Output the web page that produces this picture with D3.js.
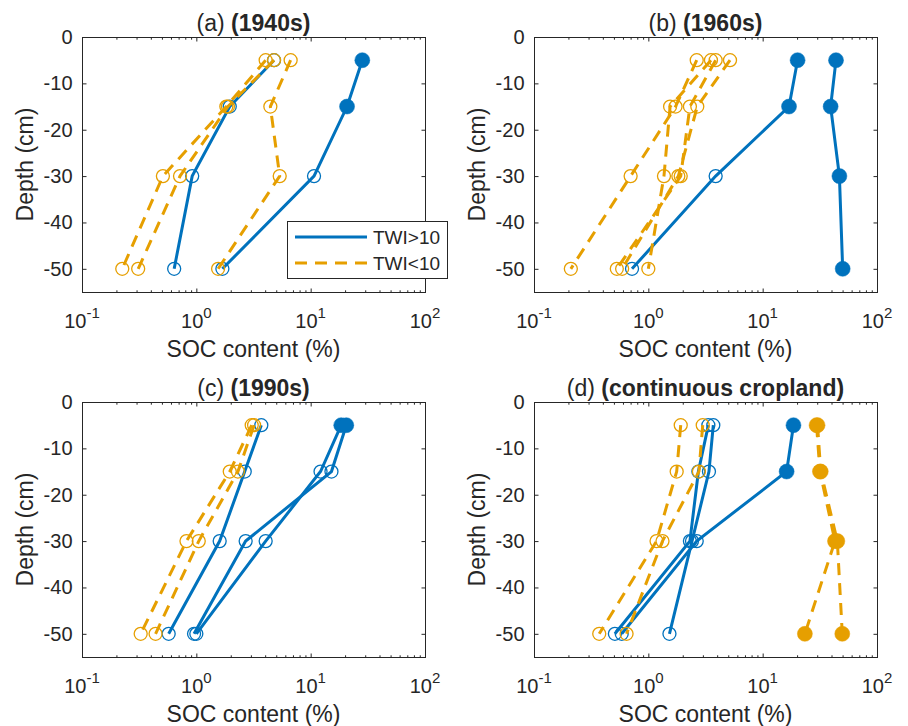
<!DOCTYPE html>
<html>
<head>
<meta charset="utf-8">
<script src="https://cdn.jsdelivr.net/npm/d3@7"></script>
<style>
  body { margin: 0; background: #fff; }
  svg { display: block; }
  text { font-family: "Liberation Sans", Arial, Helvetica, sans-serif; fill: #262626; }
</style>
</head>
<body>
<svg id="chart" width="908" height="726"></svg>
<script>
// ---- data -------------------------------------------------------------
const depths = [-5, -15, -30, -50];                 // sampling depth (cm)
const depthTicks = [0, -10, -20, -30, -40, -50];
const socDecades = [0.1, 1, 10, 100];
const decadeExponents = ["-1", "0", "1", "2"];
const panelLetters = ["(a)", "(b)", "(c)", "(d)"];
const panelPeriods = ["(1940s)", "(1960s)", "(1990s)", "(continuous cropland)"];
const legendLabels = ["TWI>10", "TWI<10"];

// SOC content (%) per profile, one value per depth; 1 = filled marker
const soc1940sHigh    = [[28.3, 20.8, 10.7, 1.69], [4.78, 1.96, 0.92, 0.64]];
const filled1940sHigh = [[1, 1, 0, 0], [0, 0, 0, 0]];
const soc1940sLow     = [[4.04, 1.83, 0.51, 0.225], [4.78, 1.89, 0.72, 0.31], [6.68, 4.44, 5.36, 1.55]];
const filled1940sLow  = [[0, 0, 0, 0], [0, 0, 0, 0], [0, 0, 0, 0]];

const soc1960sHigh    = [[20.2, 17.0, 3.88, 0.72], [43.8, 39.3, 46.9, 50.1]];
const filled1960sHigh = [[1, 1, 0, 0], [1, 1, 1, 1]];
const soc1960sLow     = [[2.65, 1.73, 0.70, 0.21], [3.53, 1.55, 1.37, 1.0], [3.88, 2.31, 1.92, 0.53], [5.18, 2.68, 1.83, 0.59]];
const filled1960sLow  = [[0, 0, 0, 0], [0, 0, 0, 0], [0, 0, 0, 0], [0, 0, 0, 0]];

const soc1990sHigh    = [[3.70, 2.65, 1.60, 0.573], [18.5, 12.2, 4.04, 1.0], [20.5, 15.2, 2.70, 0.955]];
const filled1990sHigh = [[0, 0, 0, 0], [1, 0, 0, 0], [1, 0, 0, 0]];
const soc1990sLow     = [[3.05, 1.96, 0.82, 0.326], [3.2, 2.31, 1.05, 0.44]];
const filled1990sLow  = [[0, 0, 0, 0], [0, 0, 0, 0]];

const socCropHigh     = [[18.6, 16.2, 2.65, 0.585], [3.35, 2.74, 2.31, 0.51], [3.70, 3.39, 2.41, 1.53]];
const filledCropHigh  = [[1, 1, 0, 0], [0, 0, 0, 0], [0, 0, 0, 0]];
const socCropLow      = [[1.92, 1.77, 1.18, 0.372], [2.99, 2.77, 1.33, 0.645], [29.6, 31.7, 42.9, 23.4], [30.2, 32.2, 45.0, 49.7]];
const filledCropLow   = [[0, 0, 0, 0], [0, 0, 0, 0], [1, 1, 1, 1], [1, 1, 1, 1]];

const panels = [
  { high: soc1940sHigh, highFilled: filled1940sHigh, low: soc1940sLow, lowFilled: filled1940sLow },
  { high: soc1960sHigh, highFilled: filled1960sHigh, low: soc1960sLow, lowFilled: filled1960sLow },
  { high: soc1990sHigh, highFilled: filled1990sHigh, low: soc1990sLow, lowFilled: filled1990sLow },
  { high: socCropHigh,  highFilled: filledCropHigh,  low: socCropLow,  lowFilled: filledCropLow }
];

// ---- styling & layout ------------------------------------------------
const BLUE = "#0072BD";
const ORANGE = "#E69F00";
const AXIS = "#262626";
const DASH = "12,8";
const colLeft = [82, 534];
const rowTop = [37, 402];
const plotW = 343, plotH = 255;

const svg = d3.select("#chart");
svg.append("rect").attr("width", 908).attr("height", 726).attr("fill", "#fff");

const minorTicks = [];
for (let e = -1; e < 2; e++) for (let m = 2; m <= 9; m++) minorTicks.push(m * Math.pow(10, e));

panels.forEach((p, i) => {
  const left = colLeft[i % 2], top = rowTop[Math.floor(i / 2)];
  const x = d3.scaleLog().domain([0.1, 100]).range([left, left + plotW]);
  const y = d3.scaleLinear().domain([-55, 0]).range([top + plotH, top]);
  const g = svg.append("g");

  // frame
  g.append("rect")
    .attr("x", left + 0.5).attr("y", top + 0.5)
    .attr("width", plotW).attr("height", plotH)
    .attr("fill", "none").attr("stroke", AXIS).attr("stroke-width", 1);

  // inward ticks on all four sides
  const tickAxes = [
    [d3.axisBottom(x).tickValues(socDecades).tickSize(-4), top + plotH + 0.5],
    [d3.axisBottom(x).tickValues(minorTicks).tickSize(-2.2), top + plotH + 0.5],
    [d3.axisTop(x).tickValues(socDecades).tickSize(-4), top + 0.5],
    [d3.axisTop(x).tickValues(minorTicks).tickSize(-2.2), top + 0.5]
  ];
  tickAxes.forEach(([ax, ty]) => {
    const a = g.append("g").attr("transform", `translate(0,${ty})`)
      .call(ax.tickFormat(""));
    a.select(".domain").remove();
    a.selectAll("line").attr("stroke", AXIS);
  });
  const yl = g.append("g").attr("transform", `translate(${left + 0.5},0)`)
    .call(d3.axisLeft(y).tickValues(depthTicks).tickSize(-4).tickPadding(10).tickFormat(d => String(d)));
  yl.select(".domain").remove();
  yl.selectAll("line").attr("stroke", AXIS);
  yl.selectAll("text").attr("font-size", 20).attr("fill", AXIS)
    .attr("font-family", '"Liberation Sans", Arial, sans-serif');
  const yr = g.append("g").attr("transform", `translate(${left + plotW + 0.5},0)`)
    .call(d3.axisRight(y).tickValues(depthTicks).tickSize(-4).tickFormat(""));
  yr.select(".domain").remove();
  yr.selectAll("line").attr("stroke", AXIS);

  // decade labels with superscript exponents
  socDecades.forEach((d, k) => {
    const t = g.append("text")
      .attr("x", x(d)).attr("y", top + plotH + 36)
      .attr("text-anchor", "middle").attr("font-size", 20);
    t.append("tspan").text("10");
    t.append("tspan").attr("dy", -10).attr("font-size", 15).text(decadeExponents[k]);
  });

  // axis titles
  g.append("text")
    .attr("x", left + plotW / 2).attr("y", top + plotH + 65)
    .attr("text-anchor", "middle").attr("font-size", 23)
    .text("SOC content (%)");
  g.append("text")
    .attr("transform", `translate(${left - 49},${top + plotH / 2}) rotate(-90)`)
    .attr("text-anchor", "middle").attr("font-size", 23)
    .text("Depth (cm)");

  // panel title
  const title = g.append("text")
    .attr("x", left + plotW / 2).attr("y", top - 6)
    .attr("text-anchor", "middle").attr("font-size", 23).attr("fill", "#000");
  title.append("tspan").text(panelLetters[i] + " ");
  title.append("tspan").attr("font-weight", "bold").text(panelPeriods[i]);

  // profiles
  const line = d3.line().x(d => x(d[0])).y(d => y(d[1]));
  const drawGroup = (series, filled, color, dashed) => {
    series.forEach((vals, s) => {
      const pts = vals.map((v, k) => [v, depths[k], filled[s][k]]);
      g.append("path").datum(pts)
        .attr("d", line)
        .attr("fill", "none").attr("stroke", color).attr("stroke-width", 3)
        .attr("stroke-dasharray", dashed ? DASH : null);
      g.selectAll(null).data(pts).enter().append("circle")
        .attr("cx", d => x(d[0])).attr("cy", d => y(d[1]))
        .attr("r", d => d[2] ? 7.5 : 6.5)
        .attr("fill", d => d[2] ? color : "none")
        .attr("stroke", color).attr("stroke-width", d => d[2] ? 0.5 : 1.3);
    });
  };
  drawGroup(p.high, p.highFilled, BLUE, false);
  drawGroup(p.low, p.lowFilled, ORANGE, true);

  // legend (first panel only)
  if (i === 0) {
    const lg = g.append("g");
    lg.append("rect").attr("x", 287.5).attr("y", 221.5).attr("width", 160).attr("height", 57)
      .attr("fill", "#fff").attr("stroke", AXIS).attr("stroke-width", 1);
    [[BLUE, false, 237], [ORANGE, true, 263]].forEach(([c, dashed, ly], k) => {
      lg.append("line").attr("x1", 295).attr("x2", 367).attr("y1", ly).attr("y2", ly)
        .attr("stroke", c).attr("stroke-width", 3)
        .attr("stroke-dasharray", dashed ? DASH : null);
      lg.append("text").attr("x", 373).attr("y", ly).attr("dy", "0.35em")
        .attr("font-size", 19).attr("fill", "#000").text(legendLabels[k]);
    });
  }
});
</script>
</body>
</html>
